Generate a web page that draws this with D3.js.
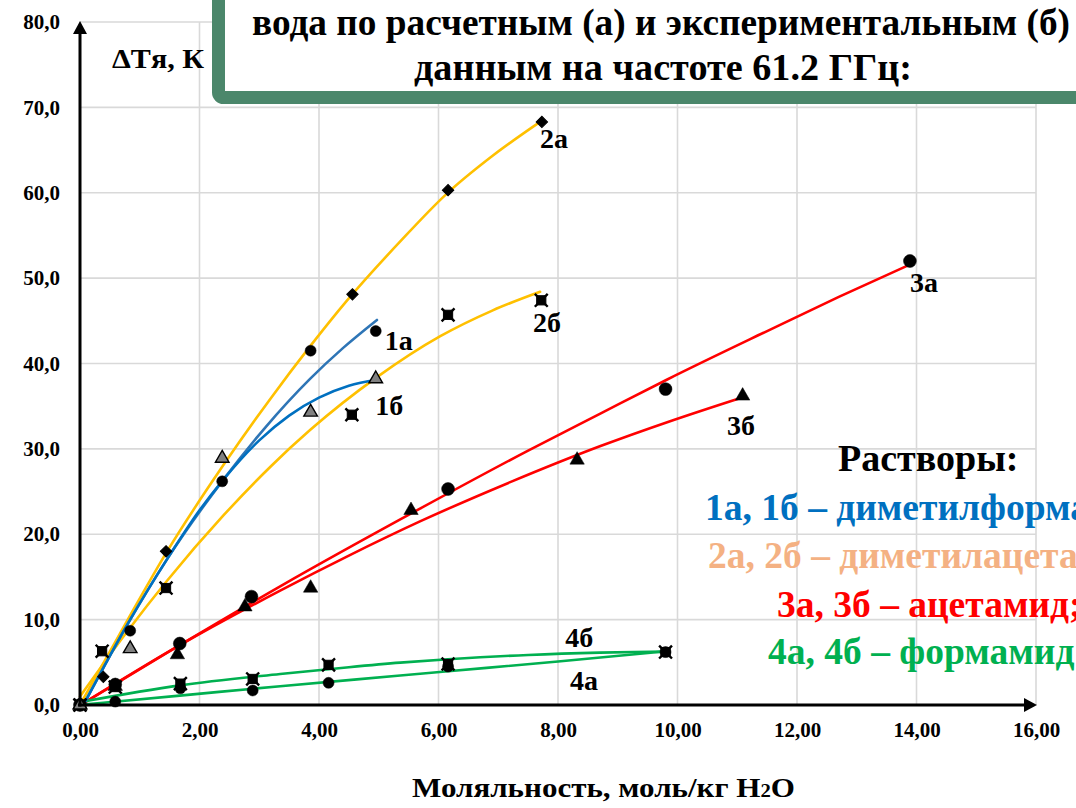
<!DOCTYPE html>
<html>
<head>
<meta charset="utf-8">
<script src="https://cdn.jsdelivr.net/npm/d3@7"></script>
<style>
  html, body { margin: 0; padding: 0; background: #fff; }
  svg { display: block; font-family: "Liberation Serif", "Times New Roman", serif; font-weight: bold; }
</style>
</head>
<body>
<svg id="chart" width="1076" height="808"></svg>
<script>
// Axis ticks
const xTicks = [0, 2, 4, 6, 8, 10, 12, 14, 16];
const yTicks = [0, 10, 20, 30, 40, 50, 60, 70, 80];

// Trend curves [molality, ΔT]
const fit1a = [[0.08,0.3],[0.84,10.0],[1.45,17.0],[2.4,26.4],[3.1,32.5],[3.85,38.2],[4.4,41.8],[4.97,45.1]];
const fit1b = [[0.08,0.3],[0.84,10.0],[1.45,17.0],[2.0,22.8],[2.4,26.4],[3.0,31.0],[3.5,33.9],[4.0,36.0],[4.5,37.4],[4.97,38.1]];
const fit2a = [[0,0],[0.8,10.0],[1.45,17.9],[2.4,28.1],[3.2,36.0],[3.85,42.0],[4.46,47.3],[5.36,54.3],[6.14,59.9],[6.9,64.3],[7.7,68.3]];
const fit2b = [[0,1.0],[0.8,8.7],[1.45,14.5],[2.4,22.2],[3.2,28.0],[3.85,32.2],[4.97,38.4],[6.03,43.2],[6.9,46.2],[7.7,48.4]];
const fit3a = [[0.08,0.3],[1.62,6.8],[3.35,13.9],[5.69,23.0],[7.5,29.8],[8.7,34.1],[9.82,38.1],[11.5,43.8],[12.7,47.8],[13.86,51.5]];
const fit3b = [[0.08,0.3],[1.62,6.8],[3.35,13.4],[4.5,17.5],[5.69,21.5],[7.2,26.1],[8.7,30.3],[9.9,33.3],[11.07,36.0]];
const fit4a = [[0.05,0.05],[1.67,1.1],[3.35,2.2],[5.36,3.45],[6.16,3.95],[8.0,5.1],[9.76,6.25]];
const fit4b = [[0.05,0.4],[1.67,2.3],[3.35,3.63],[4.5,4.43],[5.36,4.96],[6.16,5.35],[7.5,5.86],[8.7,6.13],[9.76,6.25]];

// Measured / calculated points
const pts1a = [[0,0],[0.84,8.7],[2.38,26.2],[3.86,41.5],[4.95,43.8]];
const pts1b = [[0,0],[0.84,6.6],[2.38,28.9],[3.86,34.3],[4.95,38.2]];
const pts2a = [[0,0],[0.39,3.3],[1.44,18.0],[4.56,48.1],[6.16,60.3],[7.73,68.3]];
const pts2b = [[0,0],[0.37,6.3],[1.44,13.7],[4.55,34.0],[6.16,45.7],[7.72,47.4]];
const pts3a = [[0,0],[0.59,2.4],[1.67,7.2],[2.87,12.7],[6.16,25.3],[9.80,37.0],[13.89,52.0]];
const pts3b = [[0,0],[0.59,2.2],[1.63,5.9],[2.76,11.5],[3.86,13.7],[5.54,22.8],[8.32,28.7],[11.09,36.2]];
const pts4a = [[0,0],[0.59,0.4],[1.68,1.95],[2.89,1.7],[4.16,2.6],[6.16,4.5],[9.80,6.2]];
const pts4b = [[0,0],[0.59,2.1],[1.68,2.5],[2.89,3.05],[4.16,4.7],[6.16,4.8],[9.80,6.2]];

// Curve tags
const curveTags = ["2а", "2б", "1а", "1б", "3а", "3б", "4б", "4а"];
const curveTagPos = [[7.70,65.2],[7.58,43.7],[5.1,41.6],[4.94,34.0],[13.89,48.4],[10.83,31.6],[8.12,6.8],[8.2,1.76]];

// Legend
const legendLines = ["1а, 1б – диметилформамид;", "2а, 2б – диметилацетамид;", "3а, 3б – ацетамид;", "4а, 4б – формамид;"];
const legendColors = ["#0070C0", "#F4B183", "#FF0000", "#00B050"];
const titleLines = ["вода по расчетным (а) и экспериментальным (б)", "данным на частоте 61.2 ГГц:"];

const svg = d3.select("#chart");
const x = d3.scaleLinear().domain([0, 16]).range([80, 1036]);
const y = d3.scaleLinear().domain([0, 80]).range([705, 22]);

// Grid
const grid = svg.append("g").attr("stroke", "#d9d9d9").attr("stroke-width", 1.6);
grid.selectAll("line.h").data(yTicks.slice(1)).join("line")
  .attr("x1", x(0)).attr("x2", x(16)).attr("y1", d => y(d)).attr("y2", d => y(d));
grid.selectAll("line.v").data(xTicks.slice(1)).join("line")
  .attr("x1", d => x(d)).attr("x2", d => x(d)).attr("y1", y(0)).attr("y2", y(80));

// Tick labels via axes
const fmtX = d => d3.format(".2f")(d).replace(".", ",");
const fmtY = d => d3.format(".1f")(d).replace(".", ",");
const gx = svg.append("g").attr("transform", `translate(0,${y(0)})`)
  .call(d3.axisBottom(x).tickValues(xTicks).tickFormat(fmtX).tickSize(0).tickPadding(17));
const gy = svg.append("g").attr("transform", `translate(${x(0)},0)`)
  .call(d3.axisLeft(y).tickValues(yTicks).tickFormat(fmtY).tickSize(0).tickPadding(20));
[gx, gy].forEach(g => {
  g.select(".domain").remove();
  g.selectAll("text").attr("font-family", "Liberation Serif, serif").attr("font-weight", "bold")
    .attr("font-size", 21).attr("fill", "#000");
});

// Trend curves
const line = d3.line().x(d => x(d[0])).y(d => y(d[1])).curve(d3.curveMonotoneX);
const curves = [
  [fit2b, "#FFC000"], [fit2a, "#FFC000"],
  [fit3a, "#FF0000"], [fit3b, "#FF0000"],
  [fit4a, "#00B050"], [fit4b, "#00B050"],
  [fit1a, "#2E75B6"], [fit1b, "#0070C0"]
];
svg.append("g").selectAll("path").data(curves).join("path")
  .attr("d", d => line(d[0])).attr("fill", "none")
  .attr("stroke", d => d[1]).attr("stroke-width", 2.6).attr("stroke-linecap", "round");

// Markers
const mk = svg.append("g");
function drawSymbols(data, type, size, fill, stroke, sw, rot) {
  mk.append("g").selectAll("path").data(data).join("path")
    .attr("transform", d => `translate(${x(d[0])},${y(d[1])}) rotate(${rot || 0})`)
    .attr("d", d3.symbol().type(type).size(size))
    .attr("fill", fill).attr("stroke", stroke).attr("stroke-width", sw);
}
function drawSquareX(data) {
  drawSymbols(data, d3.symbolSquare, 85, "#000", "#000", 1);
  drawSymbols(data, d3.symbolTimes, 110, "none", "#000", 2.4);
}
drawSquareX(pts2b);
drawSquareX(pts4b);
drawSymbols(pts4a, d3.symbolCircle, 95, "#000", "#000", 0.5);
drawSymbols(pts2a, d3.symbolSquare, 65, "#000", "#000", 1, 45);
drawSymbols(pts3b, d3.symbolTriangle, 90, "#000", "#000", 0.5);
drawSymbols(pts3a, d3.symbolCircle, 130, "#000", "#000", 0.5);
drawSymbols(pts1a, d3.symbolCircle, 95, "#000", "#000", 0.5);
drawSymbols(pts1b, d3.symbolTriangle, 80, "#808080", "#000", 1.4);

// Axes with arrowheads
const ax = svg.append("g");
ax.append("line").attr("x1", x(0)).attr("x2", x(0)).attr("y1", y(0) + 1.5).attr("y2", y(80) + 8)
  .attr("stroke", "#000").attr("stroke-width", 3);
ax.append("path").attr("d", `M${x(0)},${y(80) - 1} L${x(0) - 7},${y(80) + 12} L${x(0) + 7},${y(80) + 12} Z`).attr("fill", "#000");
ax.append("line").attr("x1", x(0) - 2).attr("x2", x(16) - 8).attr("y1", y(0)).attr("y2", y(0))
  .attr("stroke", "#000").attr("stroke-width", 3);
ax.append("path").attr("d", `M${x(16) + 1},${y(0)} L${x(16) - 12},${y(0) - 7} L${x(16) - 12},${y(0) + 7} Z`).attr("fill", "#000");

// Curve tags
svg.append("g").selectAll("text").data(curveTags).join("text")
  .attr("x", (d, i) => x(curveTagPos[i][0])).attr("y", (d, i) => y(curveTagPos[i][1]))
  .attr("font-size", 28).attr("fill", "#000").text(d => d);

// Axis titles
svg.append("text").attr("x", 112).attr("y", 68).attr("font-size", 27)
  .attr("textLength", 92).attr("lengthAdjust", "spacingAndGlyphs").text("ΔTя, К");
const xt = svg.append("text").attr("x", 412).attr("y", 797).attr("font-size", 27)
  .attr("textLength", 383).attr("lengthAdjust", "spacingAndGlyphs");
xt.append("tspan").text("Моляльность, моль/кг H");
xt.append("tspan").attr("font-size", 18).text("2");
xt.append("tspan").text("O");

// Title frame
svg.append("rect").attr("x", 218.5).attr("y", -30).attr("width", 900).attr("height", 127.5)
  .attr("rx", 5).attr("fill", "#fff").attr("stroke", "#4B876B").attr("stroke-width", 13);
svg.append("text").attr("x", 252).attr("y", 35).attr("font-size", 38)
  .attr("textLength", 818).attr("lengthAdjust", "spacingAndGlyphs").text(titleLines[0]);
svg.append("text").attr("x", 414).attr("y", 80).attr("font-size", 38)
  .attr("textLength", 498).attr("lengthAdjust", "spacingAndGlyphs").text(titleLines[1]);

// Legend
svg.append("text").attr("x", 838).attr("y", 471).attr("font-size", 38).attr("fill", "#000").text("Растворы:");
const legendX = [705, 708, 777, 768];
const legendY = [520, 568, 617, 664];
svg.append("g").selectAll("text").data(legendLines).join("text")
  .attr("x", (d, i) => legendX[i]).attr("y", (d, i) => legendY[i])
  .attr("font-size", 37.5).attr("fill", (d, i) => legendColors[i]).text(d => d);
</script>
</body>
</html>
